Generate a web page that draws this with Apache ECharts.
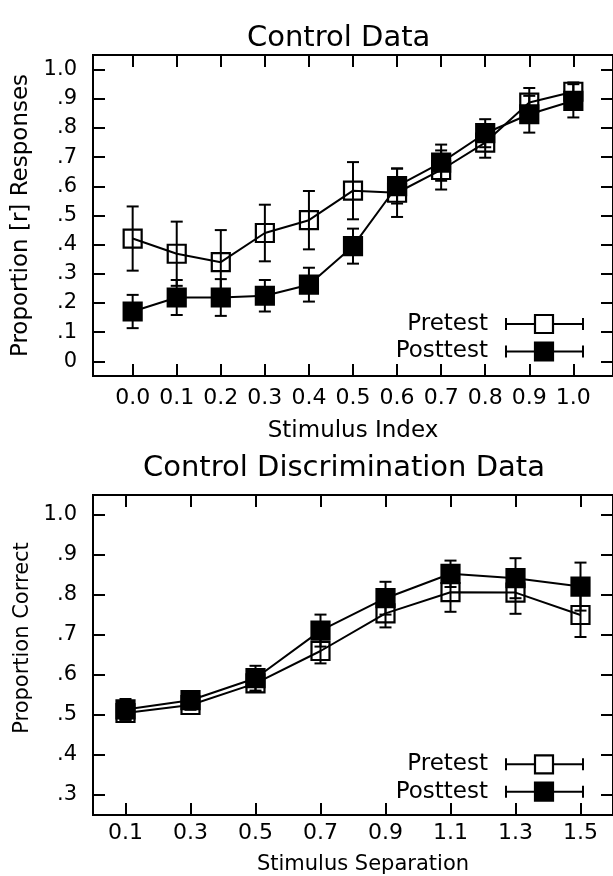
<!DOCTYPE html>
<html>
<head>
<meta charset="utf-8">
<script src="https://cdn.jsdelivr.net/npm/echarts@6/dist/echarts.min.js"></script>
<style>
html,body{margin:0;padding:0;background:#fff;}
#c{width:613px;height:876px;}
</style>
</head>
<body>
<div id="c"></div>
<script>
// ---------- data ----------
const indexCats = [0.0, 0.1, 0.2, 0.3, 0.4, 0.5, 0.6, 0.7, 0.8, 0.9, 1.0];
const idxPre     = [0.421, 0.369, 0.340, 0.440, 0.484, 0.585, 0.578, 0.656, 0.750, 0.887, 0.924];
const idxPreErr  = [0.110, 0.110, 0.110, 0.097, 0.100, 0.098, 0.083, 0.067, 0.052, 0.050, 0.032];
const idxPost    = [0.171, 0.219, 0.219, 0.225, 0.263, 0.395, 0.601, 0.681, 0.782, 0.847, 0.893];
const idxPostErr = [0.057, 0.060, 0.063, 0.054, 0.058, 0.060, 0.060, 0.062, 0.048, 0.063, 0.057];

const sepCats    = [0.1, 0.3, 0.5, 0.7, 0.9, 1.1, 1.3, 1.5];
const sepPre     = [0.505, 0.525, 0.579, 0.660, 0.754, 0.807, 0.806, 0.750];
const sepPreErr  = [0.017, 0.012, 0.021, 0.031, 0.035, 0.049, 0.053, 0.055];
const sepPost    = [0.514, 0.537, 0.592, 0.711, 0.792, 0.853, 0.842, 0.821];
const sepPostErr = [0.026, 0.012, 0.031, 0.040, 0.041, 0.033, 0.050, 0.060];

const topYTicks = [0, 0.1, 0.2, 0.3, 0.4, 0.5, 0.6, 0.7, 0.8, 0.9, 1.0];
const botYTicks = [0.3, 0.4, 0.5, 0.6, 0.7, 0.8, 0.9, 1.0];

const titles = ['Control Data', 'Control Discrimination Data'];
const seriesNames = ['Pretest', 'Posttest'];

// ---------- helpers ----------
const FONT = 'DejaVu Sans';
function yFmt(v) {
  const r = Math.round(v * 10);
  if (r === 0) return '0';
  if (r === 10) return '1.0';
  return '.' + r;
}
function pts(xs, ys) { return xs.map((x, i) => [x, ys[i]]); }
function errPts(xs, ys, es) { return xs.map((x, i) => [x, ys[i], es[i]]); }
function errRender(params, api) {
  const x = api.value(0), y = api.value(1), e = api.value(2);
  const lo = api.coord([x, y - e]);
  const hi = api.coord([x, y + e]);
  const hw = 6;
  const st = { stroke: '#000', lineWidth: 2 };
  return {
    type: 'group',
    children: [
      { type: 'line', shape: { x1: lo[0], y1: lo[1], x2: hi[0], y2: hi[1] }, style: st },
      { type: 'line', shape: { x1: lo[0] - hw, y1: lo[1], x2: lo[0] + hw, y2: lo[1] }, style: st },
      { type: 'line', shape: { x1: hi[0] - hw, y1: hi[1], x2: hi[0] + hw, y2: hi[1] }, style: st }
    ]
  };
}
function errSeries(xi, xs, ys, es) {
  return {
    type: 'custom', xAxisIndex: xi, yAxisIndex: xi, renderItem: errRender,
    data: errPts(xs, ys, es), silent: true, z: 2
  };
}
function lineSeries(xi, name, xs, ys, filled) {
  return {
    type: 'line', name: name, xAxisIndex: xi, yAxisIndex: xi,
    data: pts(xs, ys), symbol: 'rect', symbolSize: 18,
    showAllSymbol: true,
    lineStyle: { color: '#000', width: 2 },
    itemStyle: { color: filled ? '#000' : 'rgba(0,0,0,0)', borderColor: '#000', borderWidth: 2.2 },
    emphasis: { disabled: true }, silent: true, z: 3
  };
}
const tickStyle = { inside: true, length: 12, lineStyle: { color: '#000', width: 2 } };
const noLine = { show: false, onZero: false };
function xAx(gi, min, max, ticks, labelFmt, name, nameGap, fs, margin, namePad, nameFs) {
  return [{
    type: 'value', gridIndex: gi, position: 'bottom', min: min, max: max,
    axisLine: noLine,
    axisTick: Object.assign({ customValues: ticks }, tickStyle),
    axisLabel: { customValues: ticks, formatter: labelFmt, color: '#000', fontFamily: FONT, fontSize: fs, margin: margin, showMinLabel: true, showMaxLabel: true },
    splitLine: { show: false },
    name: name, nameLocation: 'middle', nameGap: nameGap,
    nameTextStyle: { color: '#000', fontFamily: FONT, fontSize: nameFs, padding: namePad }
  }, {
    type: 'value', gridIndex: gi, position: 'top', min: min, max: max,
    axisLine: noLine,
    axisTick: Object.assign({ customValues: ticks }, tickStyle),
    axisLabel: { show: false }, splitLine: { show: false }
  }];
}
function yAx(gi, min, max, ticks, name, nameGap, namePad, nameFs) {
  return [{
    type: 'value', gridIndex: gi, position: 'left', min: min, max: max,
    axisLine: noLine,
    axisTick: Object.assign({ customValues: ticks }, tickStyle),
    axisLabel: { customValues: ticks, formatter: yFmt, color: '#000', fontFamily: FONT, fontSize: 21, margin: 16, showMinLabel: true, showMaxLabel: true },
    splitLine: { show: false },
    name: name, nameLocation: 'middle', nameRotate: 90, nameGap: nameGap,
    nameTextStyle: { color: '#000', fontFamily: FONT, fontSize: nameFs, padding: namePad }
  }, {
    type: 'value', gridIndex: gi, position: 'right', min: min, max: max,
    axisLine: noLine,
    axisTick: Object.assign({ customValues: ticks }, tickStyle),
    axisLabel: { show: false }, splitLine: { show: false }
  }];
}
function legendGroup(y0, y1) {
  const out = [];
  [[y0, false, seriesNames[0]], [y1, true, seriesNames[1]]].forEach(([y, filled, label]) => {
    out.push({ type: 'text', x: 488, y: y, style: { text: label, fill: '#000', font: '23px "DejaVu Sans"', textAlign: 'right', textVerticalAlign: 'middle' } });
    out.push({ type: 'line', shape: { x1: 506, y1: y, x2: 583, y2: y }, style: { stroke: '#000', lineWidth: 2 } });
    out.push({ type: 'line', shape: { x1: 506, y1: y - 6, x2: 506, y2: y + 6 }, style: { stroke: '#000', lineWidth: 2 } });
    out.push({ type: 'line', shape: { x1: 583, y1: y - 6, x2: 583, y2: y + 6 }, style: { stroke: '#000', lineWidth: 2 } });
    out.push({ type: 'rect', shape: { x: 535, y: y - 9, width: 18, height: 18 }, style: { fill: filled ? '#000' : '#fff', stroke: '#000', lineWidth: 2.2 } });
  });
  return out;
}

// ---------- chart ----------
const chart = echarts.init(document.getElementById('c'), null, { renderer: 'canvas' });
const xa = xAx(0, -0.09, 1.09, indexCats, v => v.toFixed(1), 'Stimulus Index', 44, 22, 11, [0, 0, 0, 0], 23)
  .concat(xAx(1, 0, 1.6, sepCats, v => v.toFixed(1), 'Stimulus Separation', 39, 22, 7, [0, 0, 0, 20], 21));
const ya = yAx(0, -0.05, 1.05, topYTicks, 'Proportion [r] Responses', 58, [0, 0, 0, 0], 23)
  .concat(yAx(1, 0.25, 1.05, botYTicks, 'Proportion Correct', 59, [0, 0, 0, 34], 21));
const option = {
  animation: false,
  backgroundColor: '#fff',
  title: [
    { text: titles[0], left: 247, top: 24, padding: 0, textStyle: { color: '#000', fontFamily: FONT, fontSize: 29, fontWeight: 'normal' } },
    { text: titles[1], left: 143, top: 454, padding: 0, textStyle: { color: '#000', fontFamily: FONT, fontSize: 29, fontWeight: 'normal' } }
  ],
  grid: [
    { left: 93, top: 55, width: 522, height: 321, show: true, borderColor: '#000', borderWidth: 2, backgroundColor: 'transparent', containLabel: false },
    { left: 93, top: 495, width: 521, height: 321, show: true, borderColor: '#000', borderWidth: 2, backgroundColor: 'transparent', containLabel: false }
  ],
  xAxis: xa,
  yAxis: ya,
  series: [
    errSeries(0, indexCats, idxPre, idxPreErr),
    lineSeries(0, seriesNames[0], indexCats, idxPre, false),
    errSeries(0, indexCats, idxPost, idxPostErr),
    lineSeries(0, seriesNames[1], indexCats, idxPost, true),
    errSeries(2, sepCats, sepPre, sepPreErr),
    lineSeries(2, seriesNames[0], sepCats, sepPre, false),
    errSeries(2, sepCats, sepPost, sepPostErr),
    lineSeries(2, seriesNames[1], sepCats, sepPost, true)
  ],
  graphic: legendGroup(324, 351.5).concat(legendGroup(764.3, 791.7))
};
chart.setOption(option);
</script>
</body>
</html>
